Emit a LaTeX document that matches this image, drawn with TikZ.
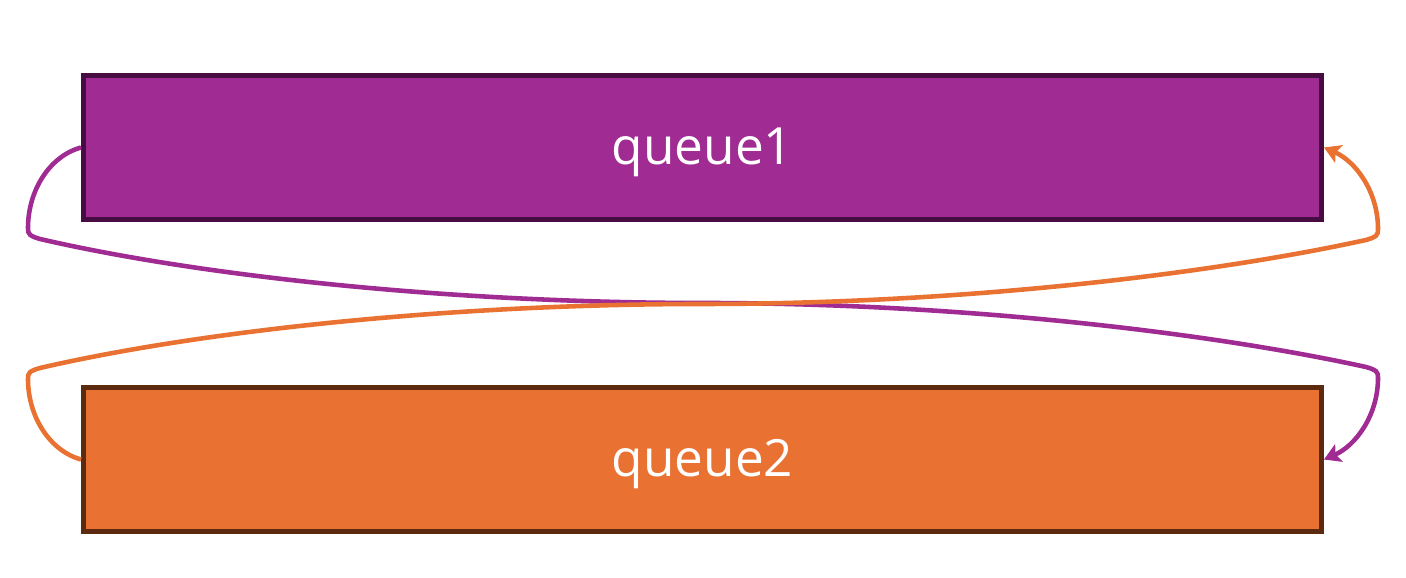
\documentclass[tikz,border=0pt]{standalone}
\usepackage{fontspec}
\setmainfont{Open Sans}
\usetikzlibrary{arrows.meta}
\definecolor{qpurple}{HTML}{A02B93}
\definecolor{qpurpledark}{HTML}{470D42}
\definecolor{qorange}{HTML}{E97132}
\definecolor{qorangedark}{HTML}{5C2A0F}
\begin{document}
\begin{tikzpicture}
        \tikzstyle{qbox} = [draw, rectangle, line width=1.4pt, minimum width=12.38cm, minimum height=1.44cm, text height=0.47cm, text depth=0.12cm, text=white, font=\fontsize{14.6}{17}\selectfont]
        \tikzstyle{link} = [line width=1.3pt, -{Stealth[length=4.6pt, width=5.4pt, inset=1pt]}]
        \useasboundingbox (0, 0) rectangle (14.06, 5.78);
        \node[qbox, fill=qpurple, draw=qpurpledark] (q1) at (7.025, 4.305) {queue1};
        \node[qbox, fill=qorange, draw=qorangedark] (q2) at (7.025, 1.185) {queue2};
        \draw[link, qpurple] (q1.west) .. controls (0.50, 4.22) and (0.28, 3.88) .. (0.28, 3.50)
          .. controls (0.28, 3.43) and (0.30, 3.42) .. (0.40, 3.39)
          .. controls (2.00, 3.02) and (4.50, 2.75) .. (7.03, 2.75)
          .. controls (9.56, 2.75) and (12.06, 2.46) .. (13.66, 2.11)
          .. controls (13.76, 2.08) and (13.78, 2.07) .. (13.78, 2.00)
          .. controls (13.78, 1.62) and (13.55, 1.32) .. (q2.east);
        \draw[link, qorange] (q2.west) .. controls (0.50, 1.27) and (0.28, 1.61) .. (0.28, 1.99)
          .. controls (0.28, 2.06) and (0.30, 2.07) .. (0.40, 2.10)
          .. controls (2.00, 2.47) and (4.50, 2.74) .. (7.03, 2.74)
          .. controls (9.56, 2.74) and (12.06, 3.03) .. (13.66, 3.38)
          .. controls (13.76, 3.41) and (13.78, 3.42) .. (13.78, 3.49)
          .. controls (13.78, 3.87) and (13.55, 4.17) .. (q1.east);
      \end{tikzpicture}
\end{document}
